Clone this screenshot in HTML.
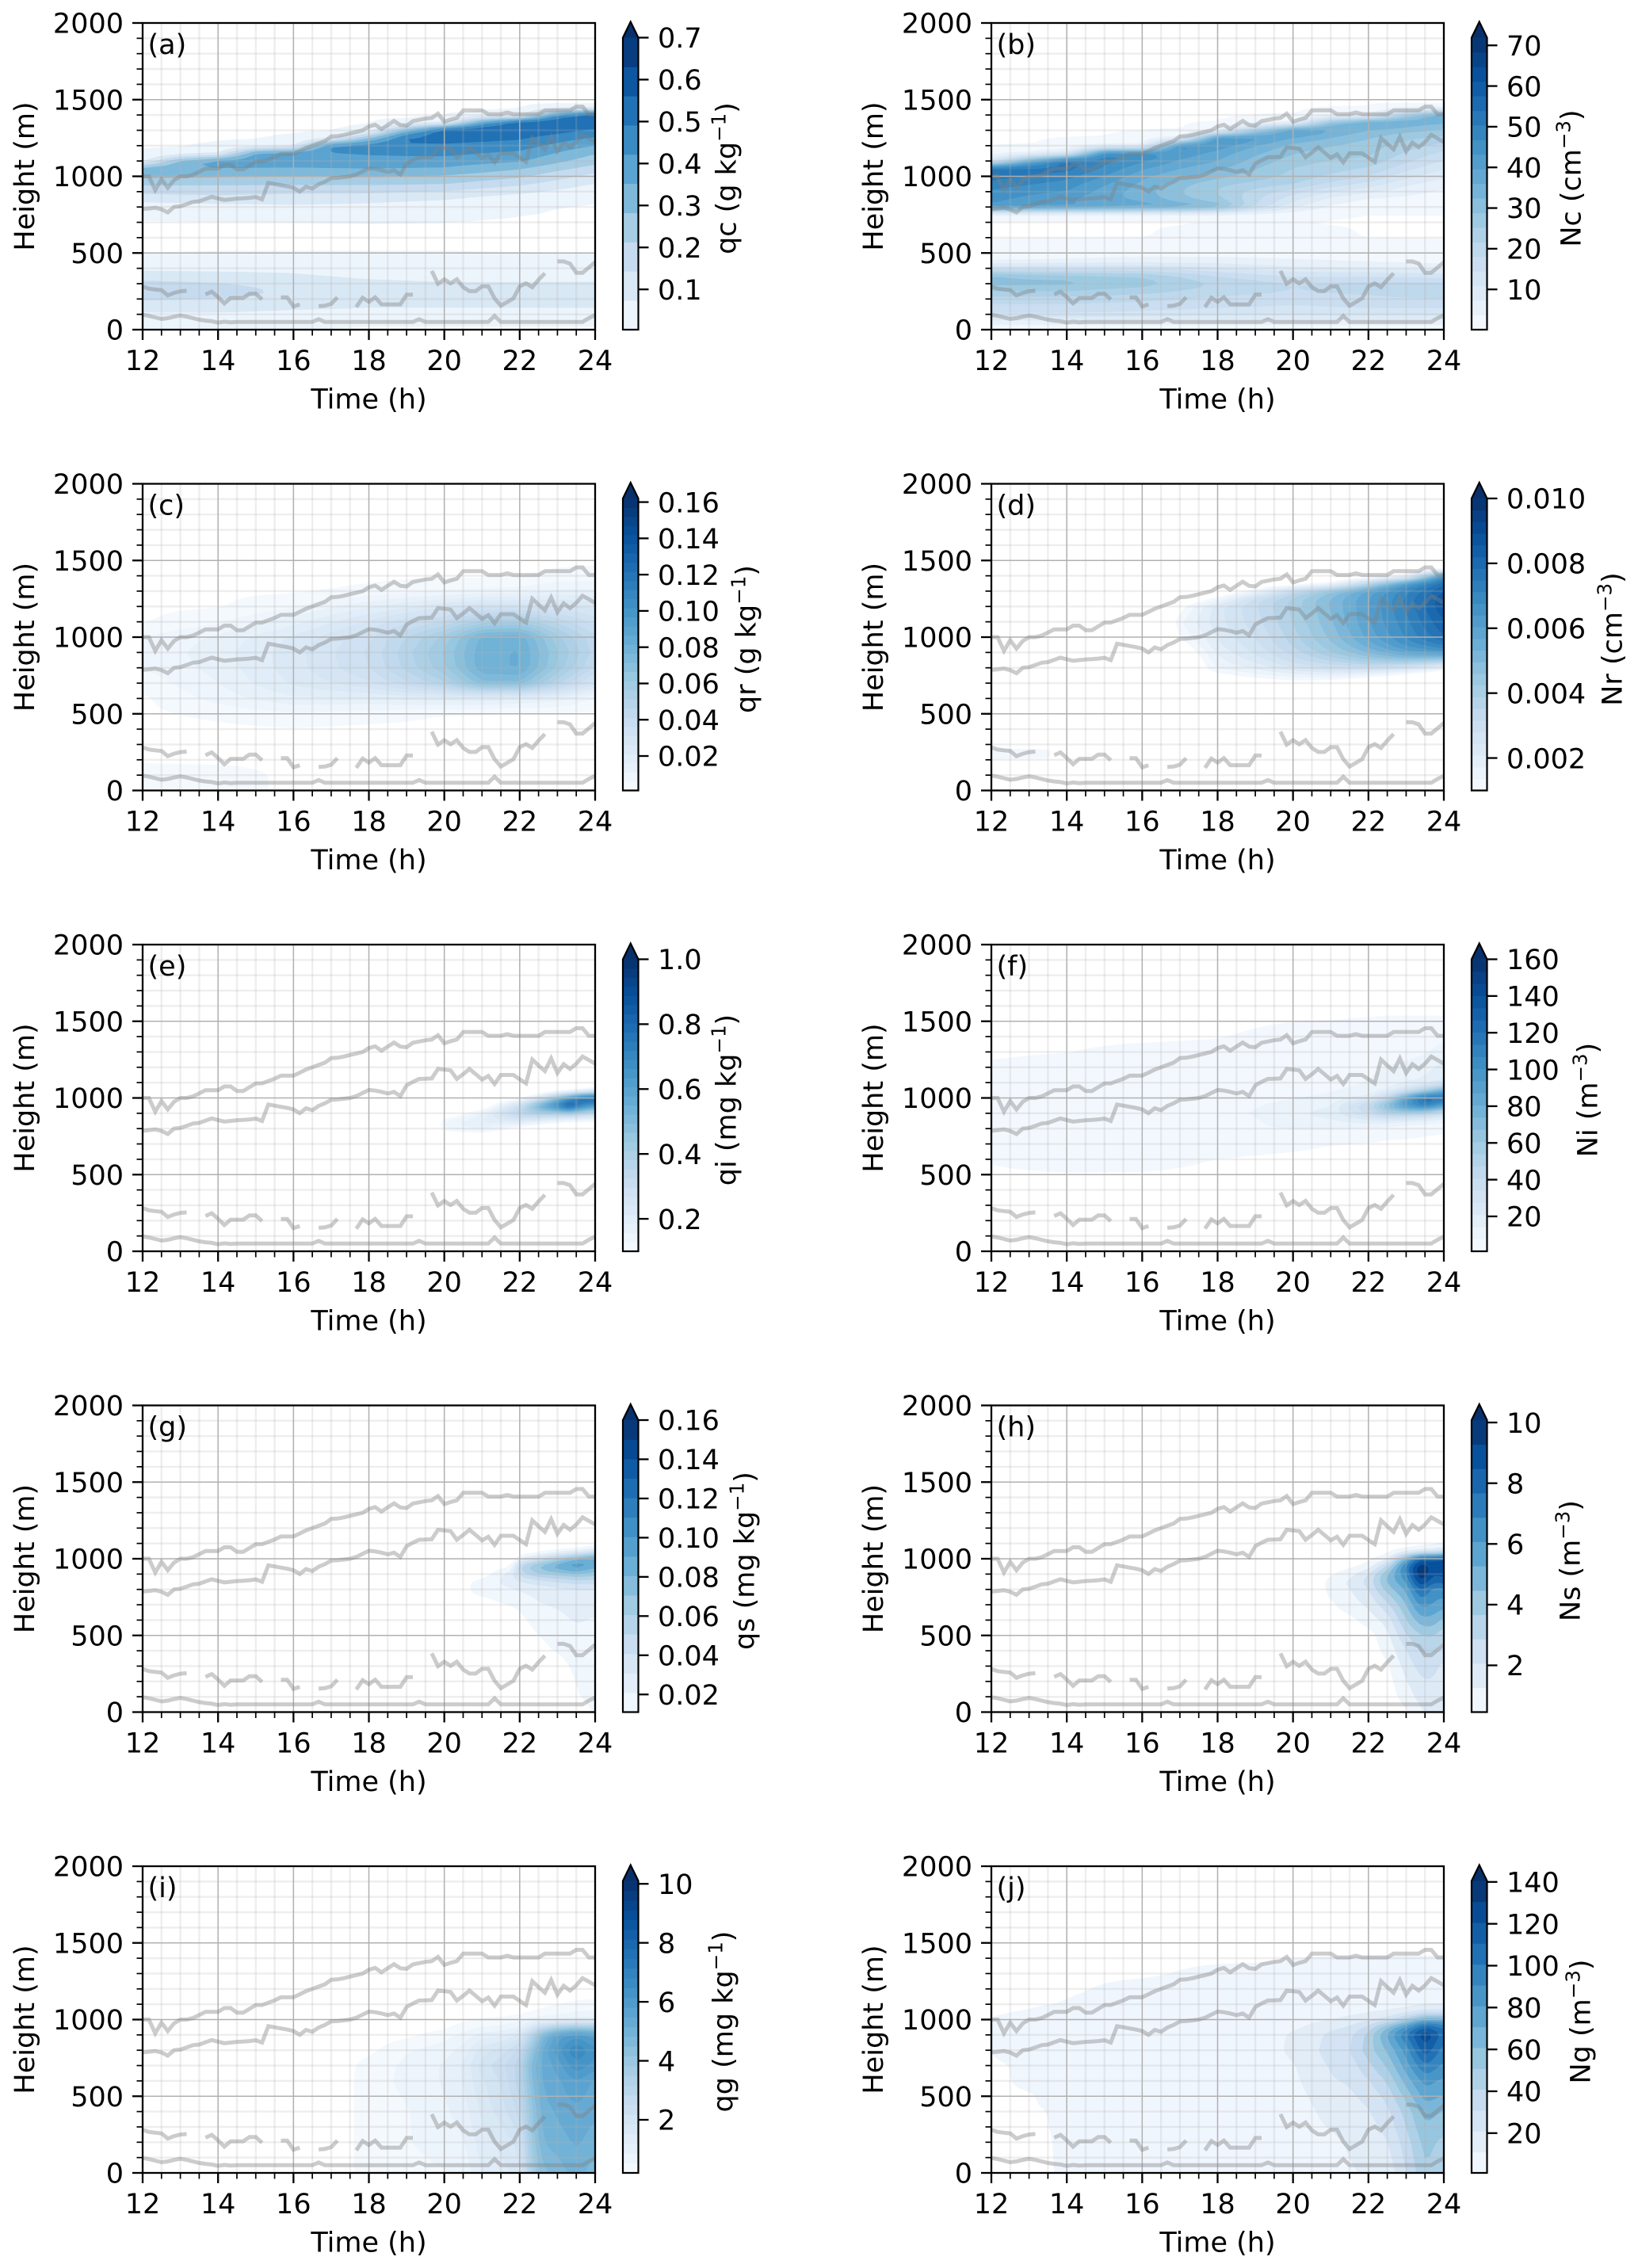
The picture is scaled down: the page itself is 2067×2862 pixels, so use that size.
<!DOCTYPE html>
<html lang="en">
<head>
<meta charset="utf-8">
<title>Hydrometeor time-height panels</title>
<style>
  html, body { margin: 0; padding: 0; background: #fff; }
  svg { display: block; }
  text { font-family: "DejaVu Sans", "Liberation Sans", sans-serif; font-size: 35px; fill: #000; }
</style>
</head>
<body>
<svg id="figure" xmlns="http://www.w3.org/2000/svg" width="2067" height="2862" viewBox="0 0 2067 2862"></svg>
<script>
// ---------- shared tick labels ----------
const timeTicks = [12, 14, 16, 18, 20, 22, 24];
const timeMinorTicks = [12.5, 13, 13.5, 14.5, 15, 15.5, 16.5, 17, 17.5, 18.5, 19, 19.5, 20.5, 21, 21.5, 22.5, 23, 23.5];
const heightTicks = [0, 500, 1000, 1500, 2000];
const heightMinorTicks = [100, 200, 300, 400, 600, 700, 800, 900, 1100, 1200, 1300, 1400, 1600, 1700, 1800, 1900];

// ---------- overlay line series, one value every ten minutes from 12 h to 24 h ----------
const lineStartHour = 12;
const lineStepHours = 1 / 6;
const upperTopHeights = [1000,1000,910,980,925,975,1000,1000,1010,1030,1050,1050,1050,1075,1075,1045,1045,1070,1095,1095,1110,1125,1145,1145,1145,1165,1185,1200,1215,1230,1260,1262,1270,1280,1290,1300,1325,1337,1308,1335,1361,1335,1331,1360,1368,1376,1381,1409,1356,1370,1381,1430,1430,1430,1430,1405,1405,1405,1416,1405,1405,1405,1405,1405,1430,1430,1430,1430,1430,1455,1455,1405,1405];
const upperBaseHeights = [786,790,795,785,765,800,804,818,833,837,852,866,856,846,850,855,857,860,865,850,957,950,942,935,925,901,933,920,948,965,988,990,995,1000,1012,1032,1052,1048,1040,1029,1040,1012,1082,1105,1124,1125,1127,1189,1185,1180,1124,1155,1189,1155,1120,1143,1091,1150,1150,1150,1122,1095,1250,1212,1175,1258,1163,1220,1189,1223,1270,1247,1223];
const lowerTopHeights = [281,267,262,258,224,240,250,254,null,null,230,248,212,171,206,206,206,234,234,197,null,null,211,211,151,165,null,null,153,156,168,211,null,null,148,208,182,211,165,165,165,165,228,228,null,null,383,299,328,302,328,277,251,251,282,282,204,156,180,204,282,302,277,325,368,null,445,445,431,371,371,405,440];
const lowerBaseHeights = [97,90,80,70,75,85,92,85,75,65,59,55,46,52,48,50,50,50,50,50,50,50,50,50,50,50,50,50,68,50,50,50,50,50,50,50,50,50,50,50,50,50,50,50,68,50,50,50,50,50,50,50,50,50,50,50,90,50,50,50,50,50,50,50,50,50,50,50,50,50,50,75,95];

// ---------- (a) qc, g/kg ; each inner array is one time, bottom to top ----------
const qcTimes = [12, 13, 14, 15, 16, 17, 18, 19, 20, 21, 22, 23, 24];
const qcHeights = [0,50,100,150,200,250,300,350,400,450,500,600,700,800,850,900,950,1000,1050,1100,1150,1200,1250,1300,1350,1400,1450,1500];
const qcValues = [
 [0,.02,.06,.11,.15,.19,.17,.10,.06,.03,.002,0,0,.03,.10,.16,.22,.30,.34,.04,.01,0,0,0,0,0,0,0],
 [0,.02,.06,.11,.145,.185,.16,.095,.06,.035,.002,0,0,.035,.107,.162,.22,.295,.345,.30,.02,0,0,0,0,0,0,0],
 [0,.02,.06,.11,.14,.18,.15,.09,.06,.04,.003,0,0,.045,.115,.165,.22,.29,.35,.39,.05,.01,0,0,0,0,0,0],
 [0,.02,.055,.10,.13,.155,.13,.085,.06,.045,.003,0,0,.05,.11,.16,.22,.285,.348,.39,.38,.02,0,0,0,0,0,0],
 [0,.02,.05,.09,.12,.13,.11,.08,.06,.05,.003,0,.001,.06,.105,.155,.22,.28,.345,.39,.42,.05,.01,0,0,0,0,0],
 [0,.015,.045,.085,.11,.115,.10,.07,.055,.05,.003,0,.002,.055,.10,.155,.22,.285,.35,.39,.42,.44,.03,0,0,0,0,0],
 [0,.01,.04,.08,.10,.10,.09,.06,.05,.05,.003,0,.003,.05,.095,.155,.22,.29,.355,.39,.43,.46,.28,.02,0,0,0,0],
 [0,.01,.04,.08,.10,.10,.085,.055,.05,.05,.003,0,.003,.04,.085,.145,.218,.28,.35,.39,.437,.478,.51,.30,.01,0,0,0],
 [0,.01,.04,.08,.10,.10,.08,.05,.05,.05,.003,0,.003,.03,.075,.135,.215,.27,.345,.39,.44,.475,.53,.55,.03,0,0,0],
 [0,.01,.04,.08,.10,.10,.08,.05,.045,.04,.002,0,.001,.02,.05,.11,.185,.25,.315,.375,.42,.465,.515,.555,.38,.01,0,0],
 [0,.01,.04,.08,.10,.10,.08,.05,.04,.03,.002,0,0,.01,.03,.09,.155,.225,.285,.36,.405,.455,.50,.555,.57,.02,0,0],
 [0,.01,.04,.08,.105,.105,.08,.05,.035,.025,.002,0,0,.004,.02,.06,.11,.17,.23,.30,.345,.40,.455,.52,.56,.42,0,0],
 [0,.01,.04,.08,.11,.11,.08,.05,.03,.02,.002,0,0,0,.01,.03,.07,.115,.18,.24,.285,.35,.41,.48,.54,.58,0,0]
];
const qcTicks = ['0.1','0.2','0.3','0.4','0.5','0.6','0.7'];

// ---------- (b) Nc, cm-3 ----------
const ncTimes = [12, 13, 14, 15, 16, 17, 18, 19, 20, 21, 22, 23, 24];
const ncHeights = [0,50,100,150,200,250,300,350,400,450,500,600,700,750,800,850,900,950,1000,1050,1100,1150,1200,1250,1300,1350,1400,1450,1500];
const ncValues = [
 [1,5,14,17,20,25,30,30,14,3,1,0,0,.5,42,44,46,49,52,54,10,1,0,0,0,0,0,0,0],
 [1,5,14,17,20,25,30,28,14,3.5,1.2,0,0,.5,41,42,44,47,50,53,35,3,0,0,0,0,0,0,0],
 [1,5,14,17,20,25,30,27,14,4,1.5,0,0,.5,40,40,43,45,48,52,52,8,1,0,0,0,0,0,0],
 [1,5,13.5,16.5,19.5,24,28,26,14,4.5,1.8,0,0,.5,39,37,38,40,43,46,48,47,3,0,0,0,0,0,0],
 [1,5,13,16,19,23,27,25,14,5,2,0,0,.5,38,35,34,35,37,40,44,47,4,1,0,0,0,0,0],
 [1,5,12.5,15.5,18,21.5,24,21.5,12.5,5,2,.5,0,.5,36,30,29,30,33,36,39,42,45,3,0,0,0,0,0],
 [1,5,12,15,17,20,21,18,11,5,2,1,0,.5,32,26,25,26,30,33,36,38,42,45,2,0,0,0,0],
 [1,5,12,14.5,16.5,19,19.5,16,9.5,4.5,2,1,0,.7,18,19,20,24,27,29,31,33,36,42,25,1,0,0,0],
 [1,5,12,14,16,18,18,14,8,4,2,1,0,1,8,12,16,22,24,25,27,29,31,36,42,3,0,0,0],
 [1,5,12,14.5,16.5,18.5,18.5,14,7.5,3.5,1.8,.5,0,.3,3,6,11,17,21,23,25,27,29,32,37,30,1,0,0],
 [1,5,12,15,17,19,19,14,7,3,1.5,0,0,0,1,3,8,13,18,21,24,26,27,29,32,40,2,0,0],
 [1,5,12,15,17.5,20,19,13.5,6.5,2.5,1.2,0,0,0,1,2.5,5,8,12,15.5,19,21,23.5,26,30,36,25,0,0],
 [1,5,12,15,18,21,19,13,6,2,1,0,0,0,1,2,3,5,8,11,14,17,20,24,28,33,38,0,0]
];
const ncTicks = ['10','20','30','40','50','60','70'];

// ---------- (c) qr, g/kg ----------
const qrTimes = [12, 14, 16, 18, 20, 21, 22, 23, 24];
const qrHeights = [0,100,200,300,400,500,600,700,800,900,1000,1100,1200,1300,1400,1500];
const qrValues = [
 [.004,.004,0,0,0,0,0,.003,.006,.007,.006,.0005,0,0,0,0],
 [.003,.003,0,0,0,.002,.008,.011,.013,.014,.012,.005,.0005,0,0,0],
 [0,0,0,0,.0005,.005,.015,.022,.024,.024,.022,.014,.005,.0003,0,0],
 [0,0,0,0,0,.003,.016,.030,.036,.037,.035,.027,.015,.002,0,0],
 [0,0,0,0,0,.001,.018,.050,.060,.062,.058,.042,.025,.006,0,0],
 [0,0,0,0,0,.0005,.018,.070,.080,.080,.078,.054,.030,.007,0,0],
 [0,0,0,0,0,0,.016,.070,.082,.082,.080,.056,.030,.008,.0005,0],
 [0,0,0,0,0,0,.013,.048,.060,.062,.058,.045,.028,.012,.002,0],
 [0,0,0,0,0,0,.005,.028,.040,.044,.042,.034,.025,.012,.003,0]
];
const qrTicks = ['0.02','0.04','0.06','0.08','0.10','0.12','0.14','0.16'];

// ---------- (d) Nr, cm-3 ----------
const nrTimes = [12, 13.5, 14.3, 16.5, 17, 18, 19, 20, 21, 22, 23, 24];
const nrHeights = [0,180,200,280,300,600,700,750,800,850,900,950,1000,1100,1200,1250,1300,1350,1400,1450,1500];
const nrValues = [
 [0,0,.0012,.0012,0,0,0,0,0,0,0,0,0,0,0,0,0,0,0,0,0],
 [0,0,.0011,.0011,0,0,0,0,0,0,0,0,0,0,0,0,0,0,0,0,0],
 [0,0,0,0,0,0,0,0,0,0,0,0,0,0,0,0,0,0,0,0,0],
 [0,0,0,0,0,0,0,0,0,0,0,0,0,0,0,0,0,0,0,0,0],
 [0,0,0,0,0,0,0,0,0,0,.0003,.0007,.001,.0013,.0008,0,0,0,0,0,0],
 [0,0,0,0,0,0,0,.0008,.0014,.0016,.0018,.002,.0021,.0023,.0023,.0012,.0001,0,0,0,0],
 [0,0,0,0,0,0,.0005,.0012,.0018,.0022,.0025,.0027,.0028,.003,.0031,.003,.0012,.0001,0,0,0],
 [0,0,0,0,0,0,.0007,.0015,.0024,.003,.0033,.0036,.0037,.0039,.004,.004,.0032,.0003,0,0,0],
 [0,0,0,0,0,0,.0006,.0016,.0028,.0036,.0042,.0045,.0047,.0049,.005,.005,.0045,.001,0,0,0],
 [0,0,0,0,0,0,.0002,.0012,.003,.0042,.005,.0055,.0058,.006,.006,.006,.0058,.0035,.0001,0,0],
 [0,0,0,0,0,0,0,.0006,.0025,.0045,.0058,.0065,.0068,.007,.0072,.0072,.007,.0062,.0012,0,0],
 [0,0,0,0,0,0,0,0,.0015,.0042,.0062,.0072,.0078,.0082,.0085,.0085,.0082,.0078,.0065,0,0]
];
const nrTicks = ['0.002','0.004','0.006','0.008','0.010'];

// ---------- (e) qi, mg/kg ----------
const qiTimes = [19.6, 20, 21, 22, 22.5, 23, 23.3, 23.6, 24];
const qiHeights = [700,750,800,850,900,950,1000,1050,1100];
const qiValues = [
 [0,0,0,0,0,0,0,0,0],
 [0,.03,.13,.14,.02,0,0,0,0],
 [0,.04,.17,.19,.16,.02,0,0,0],
 [0,0,.07,.22,.36,.30,.06,0,0],
 [0,0,.02,.18,.40,.55,.22,0,0],
 [0,0,0,.13,.40,.72,.48,.03,0],
 [0,0,0,.11,.42,.88,.62,.05,0],
 [0,0,0,.10,.38,.72,.78,.08,0],
 [0,0,0,.10,.32,.62,.82,.16,0]
];
const qiTicks = ['0.2','0.4','0.6','0.8','1.0'];

// ---------- (f) Ni, m-3 ----------
const niTimes = [12, 14, 16, 18, 19, 20, 21, 22, 22.5, 23, 23.5, 24];
const niHeights = [500,600,700,800,850,900,950,1000,1050,1100,1200,1250,1300,1350,1400,1450,1500,1550];
const niValues = [
 [0,1.5,5,6,6,6,6,6,6,5,4,.5,0,0,0,0,0,0],
 [.5,4,5,6,6,6,6,6,6,6,5,3,.5,0,0,0,0,0],
 [.5,3,5,6,6,6,6,6,6,6,5,5,4,1,0,0,0,0],
 [0,.8,4,5,6,7,7,6,6,6,5,5,4,2,.5,0,0,0],
 [0,.3,3,6,7,8,7,6,6,6,5,5,5,4,2,1,0,0],
 [0,0,2,8,12,13,10,7,6,6,5,5,5,5,4,3,.5,0],
 [0,0,1,8,13,17,14,9,7,6,5,5,5,5,4,3,1,0],
 [0,0,.5,6,18,35,45,18,9,8,6,5,5,5,5,4,2,0],
 [0,0,0,4,18,50,72,42,14,10,8,6,5,5,5,4,3,0],
 [0,0,0,3,14,52,98,88,28,14,10,7,5,5,5,4,3,0],
 [0,0,0,2,12,46,112,122,50,16,12,10,6,5,5,4,3,0],
 [0,0,0,1.5,8,32,90,118,78,24,16,14,12,8,6,4,3,0]
];
const niTicks = ['20','40','60','80','100','120','140','160'];

// ---------- (g) qs, mg/kg ----------
const qsTimes = [20.4, 20.7, 21, 21.8, 22, 22.5, 23, 23.5, 24];
const qsHeights = [0,100,200,300,400,500,600,700,800,850,900,950,1000,1050,1100];
const qsValues = [
 [0,0,0,0,0,0,0,0,0,0,0,0,0,0,0],
 [0,0,0,0,0,0,0,.005,.013,.012,0,0,0,0,0],
 [0,0,0,0,0,0,0,.006,.015,.016,.004,0,0,0,0],
 [0,0,0,0,0,0,.004,.012,.02,.026,.028,.01,0,0,0],
 [0,0,0,0,0,.003,.008,.013,.022,.03,.045,.055,.02,0,0],
 [0,0,0,0,.008,.011,.016,.02,.025,.035,.06,.075,.04,.004,0],
 [0,0,0,.006,.012,.014,.018,.022,.028,.04,.065,.09,.06,.012,0],
 [.006,.01,.012,.014,.016,.018,.022,.025,.03,.045,.07,.10,.08,.018,0],
 [.012,.014,.015,.015,.014,.016,.02,.024,.03,.045,.065,.085,.095,.03,.004]
];
const qsTicks = ['0.02','0.04','0.06','0.08','0.10','0.12','0.14','0.16'];

// ---------- (h) Ns, m-3 ----------
const nsTimes = [20.7, 21, 21.5, 22, 22.5, 23, 23.4, 23.7, 24];
const nsHeights = [0,100,200,300,400,500,600,700,800,850,900,950,1000,1050,1100];
const nsValues = [
 [0,0,0,0,0,0,0,0,0,0,0,0,0,0,0],
 [0,0,0,0,0,0,0,.3,.8,.9,.3,0,0,0,0],
 [0,0,0,0,0,0,.2,.9,1.2,1.4,1,.2,0,0,0],
 [0,0,0,0,0,.1,.8,1.4,2.0,2.4,2.0,.8,.2,0,0],
 [0,0,.1,.3,.7,1.0,1.6,2.6,4.0,4.6,4.4,3.0,1,.2,0],
 [.3,.8,1.2,1.6,2,2.8,3.6,4.4,5.4,6,6.8,7.2,5,.8,0],
 [1.2,1.6,2,2.4,3,3.6,5,6.4,8,9.5,10.3,10.3,8,1.4,.1],
 [1.4,1.6,2,2.4,3,3.8,5,6,6.5,7.8,8.4,8.8,8,1.4,.3],
 [1.2,1.4,1.6,1.8,2.4,3,4.2,5.6,6.6,8,8.8,9.5,8.5,2,.6]
];
const nsTicks = ['2','4','6','8','10'];

// ---------- (i) qg, mg/kg ----------
const qgTimes = [17.4, 17.7, 18, 19, 20, 20.5, 21, 21.5, 22, 22.3, 22.6, 23, 23.5, 24];
const qgHeights = [0,200,400,600,700,800,900,950,1000,1050,1100,1150];
const qgValues = [
 [0,0,0,0,0,0,0,0,0,0,0,0],
 [.3,.3,.3,.3,.25,0,0,0,0,0,0,0],
 [.35,.4,.4,.4,.35,.1,0,0,0,0,0,0],
 [.4,.5,.5,.6,.6,.5,.1,0,0,0,0,0],
 [.5,.7,.8,.9,.9,.7,.4,.1,0,0,0,0],
 [.6,.8,1,1.2,1.2,1,.6,.4,.1,0,0,0],
 [1.2,1.4,1.6,1.8,2,1.7,1,.5,.25,0,0,0],
 [1.4,1.6,2,2.2,2.4,2,1.1,.6,.3,0,0,0],
 [1.6,2,2.6,3,3,2.6,1.6,.8,.4,.1,0,0],
 [3.4,3.8,4,4.4,4.6,4,3,1.6,.6,.2,0,0],
 [4.4,4.8,5,5.2,5.2,5.2,4.6,2.6,.7,.3,.1,0],
 [4.6,5,5.2,5.4,5.6,6,5.6,3.4,.8,.4,.2,0],
 [5,5.2,5.4,5.8,6.4,6.8,6,3.8,.9,.5,.3,.1],
 [4.6,5,5.2,5.4,6,6.2,5.6,3.6,1,.6,.3,.2]
];
const qgTicks = ['2','4','6','8','10'];

// ---------- (j) Ng, m-3 ----------
const ngTimes = [12, 12.3, 13, 13.5, 14, 16, 18, 19.3, 20, 20.5, 21, 21.5, 22, 22.5, 23, 23.5, 24];
const ngHeights = [0,200,400,500,600,700,800,900,950,1000,1050,1100,1200,1300,1400];
const ngValues = [
 [0,0,0,0,0,0,.5,2.5,3,1,0,0,0,0,0],
 [0,0,0,0,0,0,4,5,5,3,0,0,0,0,0],
 [0,0,0,0,3,4,5,5,5,5,1.5,0,0,0,0],
 [0,0,1,3,5,5,5,5,5,5,3.5,.5,0,0,0],
 [3,4,5,5,5,5,5,5,5,5,4,1.5,0,0,0],
 [4,5,5,5,5,5,5,5,5,5,5,5,3,0,0],
 [4,5,5,5,5,5,5,5,5,5,5,5,5,2.5,0],
 [4,5,5,5,5,5,5.5,5,5,5,5,5,5,3.5,0],
 [4,5,6,7,9,10,14,13,9,6,5,5,5,5,1],
 [6,8,10,12,14,16,18,16,13,9,6,5,5,5,1.5],
 [7,9,14,17,20,22,26,24,18,10,7,5,5,4,2],
 [10,12,16,19,22,26,30,28,22,14,8,6,5,4,2],
 [12,15,20,24,30,38,46,44,34,18,10,7,5,4,2.5],
 [14,20,28,34,42,52,62,72,60,25,12,7,5,4,3],
 [30,36,45,54,65,76,85,100,85,45,16,8,6,5,3],
 [50,55,65,75,85,100,118,130,112,70,25,10,7,5,3],
 [42,48,60,70,78,88,95,105,100,68,25,10,7,5,3]
];
const ngTicks = ['20','40','60','80','100','120','140'];

// ---------- panel descriptions ----------
const panels = [
 {key:'qc', tag:'(a)', times:qcTimes, heights:qcHeights, values:qcValues, ticks:qcTicks, vmin:.004, vmax:.70,   bands:10, quantity:'qc (g kg', power:'−1', labelGap:110},
 {key:'nc', tag:'(b)', times:ncTimes, heights:ncHeights, values:ncValues, ticks:ncTicks, vmin:.1,   vmax:71.9,  bands:20, quantity:'Nc (cm',   power:'−3', labelGap:105},
 {key:'qr', tag:'(c)', times:qrTimes, heights:qrHeights, values:qrValues, ticks:qrTicks, vmin:.001, vmax:.162,  bands:32, quantity:'qr (g kg', power:'−1', labelGap:135},
 {key:'nr', tag:'(d)', times:nrTimes, heights:nrHeights, values:nrValues, ticks:nrTicks, vmin:.001, vmax:.01,   bands:25, quantity:'Nr (cm',   power:'−3', labelGap:157},
 {key:'qi', tag:'(e)', times:qiTimes, heights:qiHeights, values:qiValues, ticks:qiTicks, vmin:.1,   vmax:1.0,   bands:32, quantity:'qi (mg kg',power:'−1', labelGap:110},
 {key:'ni', tag:'(f)', times:niTimes, heights:niHeights, values:niValues, ticks:niTicks, vmin:1,    vmax:160,   bands:24, quantity:'Ni (m',    power:'−3', labelGap:126},
 {key:'qs', tag:'(g)', times:qsTimes, heights:qsHeights, values:qsValues, ticks:qsTicks, vmin:.011, vmax:.16,   bands:15, quantity:'qs (mg kg',power:'−1', labelGap:133},
 {key:'ns', tag:'(h)', times:nsTimes, heights:nsHeights, values:nsValues, ticks:nsTicks, vmin:.46,  vmax:10.08, bands:12, quantity:'Ns (m',    power:'−3', labelGap:104},
 {key:'qg', tag:'(i)', times:qgTimes, heights:qgHeights, values:qgValues, ticks:qgTicks, vmin:.2,   vmax:10.1,  bands:30, quantity:'qg (mg kg',power:'−1', labelGap:106},
 {key:'ng', tag:'(j)', times:ngTimes, heights:ngHeights, values:ngValues, ticks:ngTicks, vmin:1,    vmax:140.5, bands:14, quantity:'Ng (m',    power:'−3', labelGap:117}
];

const overlaySeries = [
 {name:'upper-top-line', values:upperTopHeights},
 {name:'upper-base-line', values:upperBaseHeights},
 {name:'lower-top-line', values:lowerTopHeights},
 {name:'lower-base-line', values:lowerBaseHeights}
];

// ---------- helpers ----------
const SVG_NS = 'http://www.w3.org/2000/svg';
const figure = document.getElementById('figure');
const BLUES = [[247,251,255],[222,235,247],[198,219,239],[158,202,225],[107,174,214],[66,146,198],[33,113,181],[8,81,156],[8,48,107]];
function blues(f) {
  const p = Math.max(0, Math.min(1, f)) * 8;
  const i = Math.min(7, Math.floor(p));
  const w = p - i;
  const c = BLUES[i].map((a, k) => Math.round(a + (BLUES[i + 1][k] - a) * w));
  return 'rgb(' + c.join(',') + ')';
}
function mk(tag, attrs, parent) {
  const el = document.createElementNS(SVG_NS, tag);
  for (const k in attrs) el.setAttribute(k, attrs[k]);
  parent.appendChild(el);
  return el;
}
function bracket(axis, v) {
  let i = 0;
  while (i < axis.length - 2 && axis[i + 1] < v) i++;
  return i;
}
function sampleField(p, t, h) {
  const T = p.times, H = p.heights;
  if (t < T[0] || t > T[T.length - 1] || h < H[0] || h > H[H.length - 1]) return 0;
  const i = bracket(T, t), j = bracket(H, h);
  const a = (t - T[i]) / (T[i + 1] - T[i]), b = (h - H[j]) / (H[j + 1] - H[j]);
  return (1 - a) * ((1 - b) * p.values[i][j] + b * p.values[i][j + 1]) + a * ((1 - b) * p.values[i + 1][j] + b * p.values[i + 1][j + 1]);
}
function buildMesh(p, tGrid, hGrid) {
  const raw = tGrid.map(t => hGrid.map(h => sampleField(p, t, h)));
  const nx = tGrid.length, ny = hGrid.length;
  const out = [];
  for (let i = 0; i < nx; i++) {
    const col = [];
    for (let j = 0; j < ny; j++) {
      let s = 0, w = 0;
      for (let di = -1; di <= 1; di++) for (let dj = -1; dj <= 1; dj++) {
        const ii = i + di, jj = j + dj;
        if (ii < 0 || jj < 0 || ii >= nx || jj >= ny) continue;
        const k = (di === 0 ? 2 : 1) * (dj === 0 ? 2 : 1);
        s += raw[ii][jj] * k; w += k;
      }
      col.push(s / w);
    }
    out.push(col);
  }
  return out;
}
function contourPath(mesh, tGrid, hGrid, level, X, Y) {
  const parts = [];
  const nx = tGrid.length, ny = hGrid.length;
  const rect = (x0, y0, x1, y1) => 'M' + x0.toFixed(1) + ' ' + y0.toFixed(1) + 'H' + x1.toFixed(1) + 'V' + y1.toFixed(1) + 'H' + x0.toFixed(1) + 'Z';
  for (let j = 0; j < ny - 1; j++) {
    let runStart = -1;
    const yLow = Y(hGrid[j]), yHigh = Y(hGrid[j + 1]);
    for (let i = 0; i < nx - 1; i++) {
      const corners = [[i, j], [i + 1, j], [i + 1, j + 1], [i, j + 1]];
      const vals = corners.map(c => mesh[c[0]][c[1]]);
      const full = vals.every(v => v >= level);
      if (full) { if (runStart < 0) runStart = i; continue; }
      if (runStart >= 0) { parts.push(rect(X(tGrid[runStart]), yHigh, X(tGrid[i]), yLow)); runStart = -1; }
      if (!vals.some(v => v >= level)) continue;
      const poly = [];
      for (let k = 0; k < 4; k++) {
        const n = (k + 1) % 4, va = vals[k], vb = vals[n];
        const ax = X(tGrid[corners[k][0]]), ay = Y(hGrid[corners[k][1]]);
        const bx = X(tGrid[corners[n][0]]), by = Y(hGrid[corners[n][1]]);
        if (va >= level) poly.push([ax, ay]);
        if ((va >= level) !== (vb >= level)) {
          const w = (level - va) / (vb - va);
          poly.push([ax + (bx - ax) * w, ay + (by - ay) * w]);
        }
      }
      parts.push('M' + poly.map(q => q[0].toFixed(1) + ' ' + q[1].toFixed(1)).join('L') + 'Z');
    }
    if (runStart >= 0) parts.push(rect(X(tGrid[runStart]), yHigh, X(tGrid[nx - 1]), yLow));
  }
  return parts.join('');
}

// ---------- layout ----------
const columnLefts = [180, 1251];
const axisWidth = 571;
const rowTops = [29, 610.5, 1192, 1773.5, 2355];
const axisHeight = 387;
const tGrid = [];
for (let i = 0; i <= 96; i++) tGrid.push(12 + i / 8);
const hGrid = [];
for (let j = 0; j <= 100; j++) hGrid.push(j * 20);

panels.forEach((p, index) => {
  const left = columnLefts[index % 2];
  const top = rowTops[Math.floor(index / 2)];
  const bottom = top + axisHeight;
  const right = left + axisWidth;
  const X = t => left + (t - 12) / 12 * axisWidth;
  const Y = h => bottom - h / 2000 * axisHeight;

  const group = mk('g', {}, figure);
  
  

  const clip = mk('clipPath', {id: 'clip-' + p.key}, group);
  mk('rect', {x: left, y: top, width: axisWidth, height: axisHeight}, clip);

  // filled contours
  const contourGroup = mk('g', {'clip-path': 'url(#clip-' + p.key + ')'}, group);
  
  
  const mesh = buildMesh(p, tGrid, hGrid);
  const levels = [];
  for (let i = 0; i <= p.bands; i++) levels.push(p.vmin + (p.vmax - p.vmin) * i / p.bands);
  const bandColor = i => i >= p.bands ? '#08306b' : blues((i + 0.5) / p.bands);
  levels.forEach((level, i) => {
    const d = contourPath(mesh, tGrid, hGrid, level, X, Y);
    if (!d) return;
    const band = mk('path', {d: d, fill: bandColor(i), stroke: bandColor(i), 'stroke-width': 0.5}, contourGroup);
    
    
  });

  // grid
  const gridGroup = mk('g', {}, group);
  
  
  timeMinorTicks.forEach(t => mk('line', {x1: X(t), x2: X(t), y1: top, y2: bottom, stroke: 'rgba(176,176,176,0.22)', 'stroke-width': 2.4}, gridGroup));
  heightMinorTicks.forEach(h => mk('line', {x1: left, x2: right, y1: Y(h), y2: Y(h), stroke: 'rgba(176,176,176,0.22)', 'stroke-width': 2.4}, gridGroup));
  timeTicks.forEach(t => mk('line', {x1: X(t), x2: X(t), y1: top, y2: bottom, stroke: '#b0b0b0', 'stroke-width': 1.5}, gridGroup));
  heightTicks.forEach(h => mk('line', {x1: left, x2: right, y1: Y(h), y2: Y(h), stroke: '#b0b0b0', 'stroke-width': 1.5}, gridGroup));

  // overlay lines
  overlaySeries.forEach(series => {
    let d = '';
    let pen = false;
    series.values.forEach((h, i) => {
      if (h === null) { pen = false; return; }
      d += (pen ? 'L' : 'M') + X(lineStartHour + i * lineStepHours).toFixed(1) + ' ' + Y(h).toFixed(1);
      pen = true;
    });
    const line = mk('path', {d: d, fill: 'none', stroke: '#808080', 'stroke-opacity': 0.4, 'stroke-width': 5, 'stroke-linejoin': 'miter', 'clip-path': 'url(#clip-' + p.key + ')'}, group);
    
    
  });

  // spines
  const frame = mk('rect', {x: left, y: top, width: axisWidth, height: axisHeight, fill: 'none', stroke: '#000', 'stroke-width': 2.3}, group);
  
  

  // x ticks
  const xAxis = mk('g', {}, group);
  
  
  timeMinorTicks.forEach(t => mk('line', {x1: X(t), x2: X(t), y1: bottom, y2: bottom + 7.5, stroke: '#000', 'stroke-width': 1.7}, xAxis));
  timeTicks.forEach(t => {
    mk('line', {x1: X(t), x2: X(t), y1: bottom, y2: bottom + 13, stroke: '#000', 'stroke-width': 2.3}, xAxis);
    const label = mk('text', {x: X(t), y: bottom + 51, 'text-anchor': 'middle'}, xAxis);
    label.textContent = String(t);
    
    
  });
  const xTitle = mk('text', {x: (left + right) / 2, y: bottom + 99.5, 'text-anchor': 'middle'}, xAxis);
  xTitle.textContent = 'Time (h)';
  
  

  // y ticks
  const yAxis = mk('g', {}, group);
  
  
  heightMinorTicks.forEach(h => mk('line', {x1: left - 7.5, x2: left, y1: Y(h), y2: Y(h), stroke: '#000', 'stroke-width': 1.7}, yAxis));
  heightTicks.forEach(h => {
    mk('line', {x1: left - 13, x2: left, y1: Y(h), y2: Y(h), stroke: '#000', 'stroke-width': 2.3}, yAxis);
    const label = mk('text', {x: left - 24, y: Y(h) + 12.7, 'text-anchor': 'end'}, yAxis);
    label.textContent = String(h);
    
    
  });
  const yTitleY = (top + bottom) / 2;
  const yTitle = mk('text', {x: 0, y: 0, 'text-anchor': 'middle', transform: 'translate(' + (left - 137) + ' ' + yTitleY + ') rotate(-90)'}, yAxis);
  yTitle.textContent = 'Height (m)';
  
  

  // panel tag
  const tag = mk('text', {x: left + 6.5, y: top + 39}, group);
  tag.textContent = p.tag;
  
  

  // colorbar
  const cbLeft = right + 35;
  const cbWidth = 19.5;
  const cbTop = top + 18.5;
  const cbBottom = bottom;
  const CY = v => cbBottom - (v - p.vmin) / (p.vmax - p.vmin) * (cbBottom - cbTop);
  const bar = mk('g', {}, group);
  
  
  for (let i = 0; i < p.bands; i++) {
    mk('rect', {x: cbLeft, y: CY(levels[i + 1]), width: cbWidth, height: CY(levels[i]) - CY(levels[i + 1]) + 0.4, fill: bandColor(i)}, bar);
  }
  const cbOutline = 'M' + cbLeft + ' ' + cbBottom + 'V' + cbTop + 'L' + (cbLeft + cbWidth / 2) + ' ' + (top - 1.5) + 'L' + (cbLeft + cbWidth) + ' ' + cbTop + 'V' + cbBottom + 'Z';
  const tip = mk('path', {d: 'M' + cbLeft + ' ' + cbTop + 'L' + (cbLeft + cbWidth / 2) + ' ' + (top - 1.5) + 'L' + (cbLeft + cbWidth) + ' ' + cbTop + 'Z', fill: '#08306b'}, bar);
  
  
  mk('path', {d: cbOutline, fill: 'none', stroke: '#000', 'stroke-width': 2.2, 'stroke-linejoin': 'miter'}, bar);
  p.ticks.forEach(text => {
    const v = parseFloat(text);
    mk('line', {x1: cbLeft + cbWidth, x2: cbLeft + cbWidth + 13, y1: CY(v), y2: CY(v), stroke: '#000', 'stroke-width': 2.3}, bar);
    const label = mk('text', {x: cbLeft + cbWidth + 24.5, y: CY(v) + 12.7}, bar);
    label.textContent = text;
    
    
  });
  const cbTitle = mk('text', {x: 0, y: 0, 'text-anchor': 'middle', transform: 'translate(' + (cbLeft + cbWidth + p.labelGap + 13) + ' ' + (top + 196) + ') rotate(-90)'}, bar);
  
  
  const quantity = mk('tspan', {}, cbTitle);
  quantity.textContent = p.quantity;
  const power = mk('tspan', {dy: -13, 'font-size': 24.5}, cbTitle);
  power.textContent = p.power;
  const close = mk('tspan', {dy: 13}, cbTitle);
  close.textContent = ')';
});
</script>
</body>
</html>
